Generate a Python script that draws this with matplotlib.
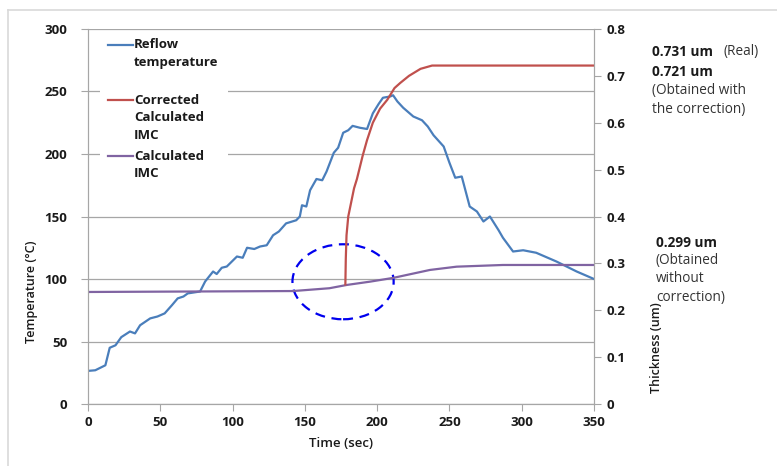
import numpy as np
import matplotlib.pyplot as plt
from matplotlib.patches import Ellipse, Rectangle
from matplotlib.lines import Line2D

plt.rcParams['font.family'] = ['Open Sans', 'DejaVu Sans']

# Reflow temperature
t_temp = [0, 5, 12, 15, 19, 23, 29, 32.5, 36, 43, 48, 53, 58, 62, 66, 69, 77.5, 81, 86.5, 89, 92.5, 96,
          103, 107, 110, 115, 119, 123.6, 128, 132, 137, 144, 146.5, 148, 151, 153.6, 158, 162, 165,
          170, 173, 176.5, 180, 183, 188, 193, 197, 201, 204, 209, 211, 214, 218, 225, 231, 235,
          239, 246, 250, 254, 258.5, 264, 269, 273.5, 278, 284, 287, 294, 301, 310, 324, 338, 350]
temp = [26.5, 27, 31, 45, 47, 53.5, 58, 56.5, 63, 68.5, 70, 72.5, 79, 84.5, 86, 88.5, 90, 98, 106, 104,
        109, 110, 118, 117, 125, 124, 126, 127, 135, 138, 144.5, 147, 150, 159, 158, 171, 180, 179,
        186, 201, 205, 217, 219, 222.5, 221, 220, 232.5, 240, 245, 246, 247, 242, 237, 230, 227, 222,
        215, 206, 193, 181, 182, 158, 154, 146, 150, 139, 133, 122, 123, 121, 114, 106, 100]

# Corrected calculated IMC (um)
t_corr = [178, 178.3, 178.8, 180, 182, 184, 186, 190, 193, 197, 202, 207, 212, 216, 222, 230, 238, 350]
imc_corr = [0.255, 0.31, 0.36, 0.40, 0.43, 0.46, 0.48, 0.53, 0.563, 0.60, 0.63, 0.649, 0.674,
            0.685, 0.70, 0.715, 0.722, 0.722]

# Calculated IMC (um)
t_imc = [0, 142, 167, 179, 195, 211, 236.5, 255, 287, 350]
imc = [0.239, 0.241, 0.247, 0.254, 0.261, 0.269, 0.286, 0.293, 0.2966, 0.2966]

blue = '#4A7EBB'
red = '#C0504D'
purple = '#8064A2'
grey = '#A6A6A6'
txt = '#1A1A1A'

fig = plt.figure(figsize=(7.77, 4.66), dpi=100)
ax = fig.add_axes([0.1133, 0.133, 0.6512, 0.8048])
ax2 = ax.twinx()

ax.plot(t_temp, temp, color=blue, lw=1.6)
ax2.plot(t_imc, imc, color=purple, lw=1.6)
ax2.plot(t_corr, imc_corr, color=red, lw=1.6)

ax.set_xlim(0, 350)
ax.set_ylim(0, 300)
ax2.set_ylim(0, 0.8)
ax.set_xticks(range(0, 351, 50))
ax.set_yticks(range(0, 301, 50))
ax2.set_yticks(np.arange(0, 0.81, 0.1))
ax2.set_yticklabels(['0', '0.1', '0.2', '0.3', '0.4', '0.5', '0.6', '0.7', '0.8'])

ax.grid(axis='y', color=grey, lw=0.9)
ax.set_axisbelow(True)
for a in (ax, ax2):
    a.spines['top'].set_visible(False)
    for s in ('left', 'right', 'bottom'):
        a.spines[s].set_color(grey)
    a.tick_params(colors=grey, labelcolor=txt, length=5, labelsize=9.5)
    for lab in a.get_xticklabels() + a.get_yticklabels():
        lab.set_fontweight('bold')
ax.tick_params(axis='y', pad=10)
ax2.tick_params(axis='y', pad=4)

ax.set_xlabel('Time (sec)', fontsize=9.5, fontweight='semibold', color=txt, labelpad=6)
ax.set_ylabel('Temperature (°C)', fontsize=9, fontweight='semibold', color=txt)
ax.yaxis.set_label_coords(-0.098, 0.3)
ax2.set_ylabel('Thickness (um)', fontsize=9, fontweight='semibold', color=txt)
ax2.yaxis.set_label_coords(1.11, 0.15)

# dashed ellipse around the point where the correction starts
ax.add_patch(Ellipse((176.4, 97.8), 70, 60, fill=False, ec='#0000EE', lw=1.6,
                     ls=(0, (4.5, 3)), zorder=5))

# legend, drawn by hand to keep Excel's spacing
W, H = 777, 466
fig.add_artist(Rectangle((100 / W, 1 - 185 / H), 128 / W, 150 / H, fc='white', ec='none', zorder=2))
entries = [(blue, 45, ['Reflow', 'temperature']),
           (red, 100, ['Corrected', 'Calculated', 'IMC']),
           (purple, 156, ['Calculated', 'IMC'])]
for col, y0, lines in entries:
    fig.add_artist(Line2D([108 / W, 133 / W], [1 - y0 / H, 1 - y0 / H], color=col, lw=1.6, zorder=3))
    for i, s in enumerate(lines):
        fig.text(134 / W, 1 - (y0 + i * 17.8) / H, s, fontsize=9.5, fontweight='bold',
                 color=txt, va='center', zorder=3)

# notes on the right
fs = 9.8
fig.text(652 / W, 1 - 52 / H, '0.731 um', fontsize=fs, fontweight='bold', color=txt, va='center')
fig.text(723 / W, 1 - 52 / H, '(Real)', fontsize=fs, color='#333333', va='center')
fig.text(652 / W, 1 - 72 / H, '0.721 um', fontsize=fs, fontweight='bold', color=txt, va='center')
fig.text(652 / W, 1 - 100 / H, '(Obtained with\nthe correction)', fontsize=fs,
         color='#333333', va='center', linespacing=1.35)
fig.text(656 / W, 1 - 243 / H, '0.299 um', fontsize=fs, fontweight='bold', color=txt, va='center')
fig.text(656 / W, 1 - 279 / H, '(Obtained\nwithout\ncorrection)', fontsize=fs,
         color='#333333', va='center', linespacing=1.35)

# outer frame (cut by the image edges)
fig.add_artist(Line2D([8 / W, 8 / W], [0, 1 - 10 / H], color='#D9D9D9', lw=1.2))
fig.add_artist(Line2D([8 / W, 1], [1 - 10 / H, 1 - 10 / H], color='#D9D9D9', lw=1.2))

fig.savefig('out.png', dpi=100)
